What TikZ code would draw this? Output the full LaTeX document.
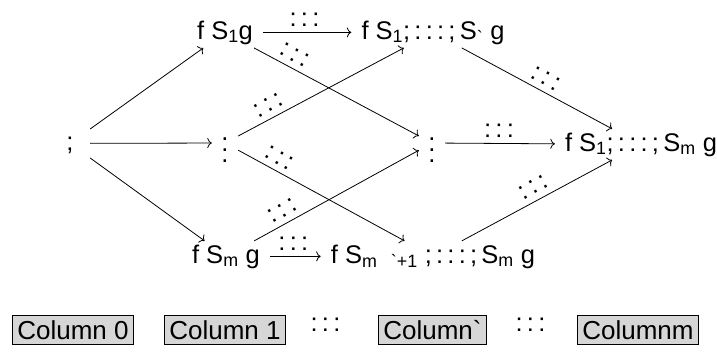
\documentclass[tikz,border=0pt]{standalone}
\usepackage{fontspec}
\setmainfont{Liberation Sans}[Ligatures=TeXOff]
\usetikzlibrary{arrows.meta}
% grave accent glyph
\newcommand{\grv}{\symbol{96}}
% three dots stacked vertically, centred on the node
\newcommand{\vdts}{\smash{\raisebox{-19.3pt}{\vbox{\baselineskip=11pt\lineskiplimit=-20pt\hbox{.}\hbox{.}\hbox{.}}}}}
% horizontal ellipsis drawn with colons
\newcommand{\cdts}{:\,:\,:}
\begin{document}
\begin{tikzpicture}[x=1pt,y=-1pt,
  font=\fontsize{25.5}{30}\selectfont,
  set/.style={anchor=base,text height=18.6pt,text depth=5.4pt,inner xsep=10pt},
  vd/.style={minimum width=26pt,minimum height=30pt,inner sep=0pt},
  arr/.style={line width=0.8pt,-{To[length=4.5pt,width=10pt]}},
  lbl/.style={sloped,above=2.5pt},
  colbox/.style={draw,line width=0.8pt,fill=black!16,inner sep=5pt,
    font=\fontsize{26}{30}\selectfont}]
\useasboundingbox (0,0) rectangle (717,356);

% lattice of subsets
\node[set,minimum width=40pt] (e) at (70,150) {;};
\node[set] (t1) at (225,39)  {f S\textsubscript{1}g};
\node[vd]  (v1) at (225,143) {\vdts};
\node[set] (b1) at (226,263) {f S\textsubscript{m} g};
\node[set] (t2) at (433,39)  {f S\textsubscript{1};\,:\,:\,:\,;\,S\textsubscript{\grv} g};
\node[vd]  (v2) at (432,143) {\vdts};
\node[set] (b2) at (433,263) {f S\textsubscript{m\hspace{14pt}\grv+1} ;\,:\,:\,:\,;\,S\textsubscript{m} g};
\node[set] (r)  at (641,151) {f S\textsubscript{1};\,:\,:\,:\,;\,S\textsubscript{m} g};

% inclusions
\draw[arr] (e) -- (t1);
\draw[arr] (e) -- (v1);
\draw[arr] (e) -- (b1);
\draw[arr] (t1) -- node[lbl,pos=.47] {\cdts} (t2);
\draw[arr] (t1) -- node[lbl,pos=.21] {\cdts} (v2);
\draw[arr] (v1) -- node[lbl,pos=.22] {\cdts} (t2);
\draw[arr] (v1) -- node[lbl,pos=.21] {\cdts} (b2);
\draw[arr] (b1) -- node[lbl,pos=.46] {\cdts} (b2);
\draw[arr] (b1) -- node[lbl,pos=.21] {\cdts} (v2);
\draw[arr] (v2) -- node[lbl,pos=.49] {\cdts} (r);
\draw[arr] (t2) -- node[lbl,pos=.52] {\cdts} (r);
\draw[arr] (b2) -- node[lbl,pos=.52] {\cdts} (r);

% column captions
\node[colbox] (c0) at (73,330)    {Column 0};
\node[colbox] (c1) at (225,330)   {Column 1};
\node         (d1) at (325.5,325) {\cdts};
\node[colbox] (cl) at (432.5,330) {Column\grv};
\node         (d2) at (530.5,325) {\cdts};
\node[colbox] (cm) at (638,330)   {Columnm};
\end{tikzpicture}
\end{document}
